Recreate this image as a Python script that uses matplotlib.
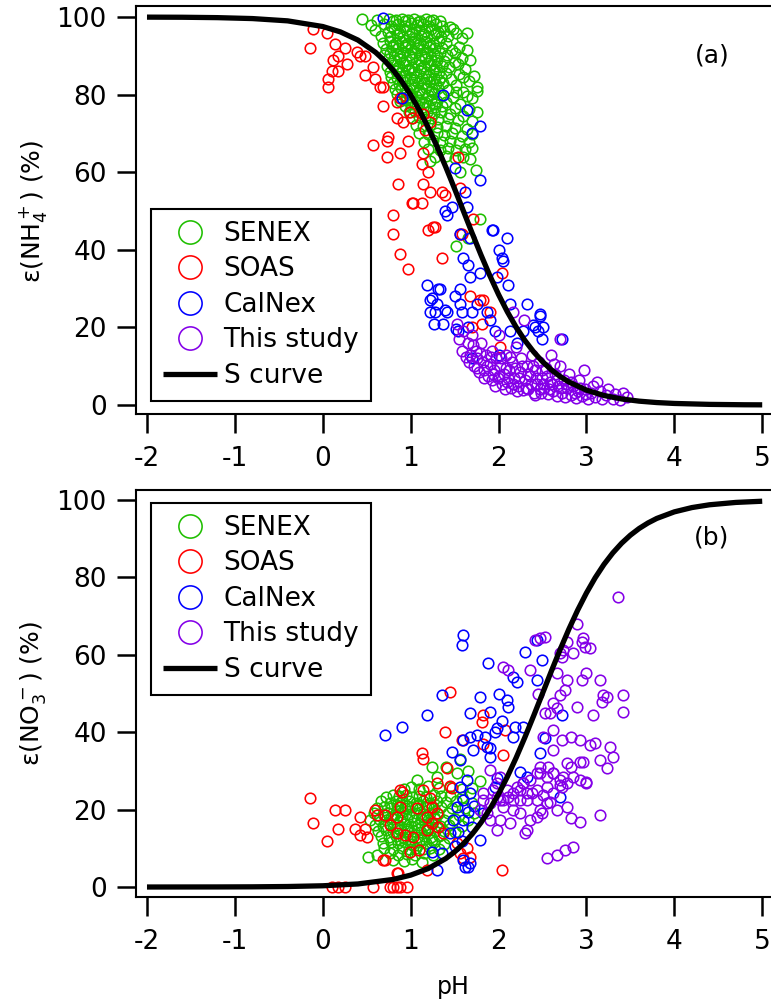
import matplotlib
matplotlib.use('Agg')
import matplotlib.pyplot as plt

plt.rcParams['font.family'] = 'DejaVu Sans'
plt.rcParams['mathtext.fontset'] = 'dejavusans'
plt.rcParams['axes.unicode_minus'] = False

# ---------------------------------------------------------------------------
# data: (pH, epsilon %) pairs
# ---------------------------------------------------------------------------
series_names = ['SENEX', 'SOAS', 'CalNex', 'This study']
series_colors = ['#1fbf00', '#ff0000', '#0000ff', '#8400e8']

# S curves
curve_ph_nh4 = [-2.0, -1.6, -1.2, -0.8, -0.4, 0.0, 0.2, 0.4, 0.6, 0.7, 0.8, 0.9, 1.0, 1.1,
                1.2, 1.3, 1.4, 1.5, 1.6, 1.7, 1.8, 1.9, 2.0, 2.1, 2.2, 2.3, 2.4, 2.5, 2.6,
                2.7, 2.8, 3.0, 3.2, 3.4, 3.6, 3.8, 4.0, 4.4, 4.8, 5.0]
scurve_nh4 = [99.97, 99.94, 99.84, 99.60, 99.01, 97.55, 96.17, 94.06, 90.91, 88.82, 86.32,
              83.37, 79.92, 75.97, 71.52, 66.61, 61.31, 55.73, 50.00, 44.27, 38.69, 33.39,
              28.48, 24.03, 20.08, 16.63, 13.68, 11.18, 9.09, 7.36, 5.94, 3.83, 2.45, 1.56,
              0.99, 0.63, 0.40, 0.16, 0.06, 0.04]
curve_ph_no3 = [-2.0, -1.6, -1.2, -0.8, -0.4, 0.0, 0.4, 0.8, 1.0, 1.2, 1.4, 1.5, 1.6, 1.7,
                1.8, 1.9, 2.0, 2.1, 2.2, 2.3, 2.4, 2.5, 2.6, 2.7, 2.8, 2.9, 3.0, 3.1, 3.2,
                3.3, 3.4, 3.5, 3.6, 3.7, 3.8, 4.0, 4.2, 4.4, 4.7, 5.0]
scurve_no3 = [0.00, 0.01, 0.02, 0.05, 0.13, 0.32, 0.79, 1.96, 3.07, 4.77, 7.36, 9.09, 11.18,
              13.68, 16.63, 20.08, 24.03, 28.48, 33.39, 38.69, 44.27, 50.00, 55.73, 61.31,
              66.61, 71.52, 75.97, 79.92, 83.37, 86.32, 88.82, 90.91, 92.64, 94.06, 95.23,
              96.93, 98.04, 98.76, 99.37, 99.68]

# panel (a): ammonium
senex_a = [
    (0.45, 99.6), (0.62, 99.3), (0.75, 99.5), (0.83, 99.2), (0.90, 99.6), (0.97, 99.3), (1.04, 99.5),
    (1.11, 99.1), (1.18, 99.6), (1.25, 99.3), (1.33, 99.0),
    (0.55, 97.9), (0.70, 98.3), (0.78, 97.7), (0.86, 98.2), (0.93, 97.8), (1.00, 98.4), (1.07, 97.9),
    (1.14, 98.1), (1.21, 97.6), (1.29, 98.2), (1.36, 97.8), (1.45, 97.4),
    (0.60, 96.6), (0.74, 96.2), (0.81, 96.8), (0.88, 96.3), (0.95, 96.7), (1.02, 96.1), (1.09, 96.6),
    (1.16, 96.4), (1.23, 96.9), (1.31, 96.2), (1.38, 96.5), (1.52, 95.8), (1.64, 96.0),
    (0.66, 95.1), (0.77, 94.8), (0.84, 95.3), (0.91, 94.9), (0.98, 95.2), (1.05, 94.7), (1.12, 95.1),
    (1.19, 94.9), (1.26, 95.3), (1.34, 94.8), (1.42, 95.0),
    (0.69, 93.4), (0.76, 93.7), (0.83, 93.2), (0.90, 93.6), (0.97, 93.3), (1.04, 93.8), (1.11, 93.4),
    (1.18, 93.6), (1.25, 93.2), (1.32, 93.7), (1.40, 93.3), (1.55, 92.4),
    (0.72, 91.8), (0.79, 92.2), (0.86, 91.9), (0.93, 92.3), (1.00, 91.7), (1.07, 92.1), (1.14, 91.8),
    (1.21, 92.2), (1.28, 91.9), (1.36, 92.1), (1.47, 91.5),
    (0.70, 90.3), (0.77, 90.7), (0.84, 90.4), (0.91, 90.8), (0.98, 90.2), (1.05, 90.6), (1.12, 90.3),
    (1.19, 90.7), (1.26, 90.4), (1.33, 90.6), (1.41, 90.2), (1.58, 89.5),
    (0.74, 89.1), (0.81, 88.8), (0.88, 89.2), (0.95, 88.7), (1.02, 89.1), (1.09, 88.9), (1.16, 89.3),
    (1.23, 88.8), (1.30, 89.0), (1.38, 88.7), (1.50, 88.4),
    (0.73, 87.4), (0.80, 87.7), (0.87, 87.3), (0.94, 87.6), (1.01, 87.2), (1.08, 87.7), (1.15, 87.4),
    (1.22, 87.6), (1.29, 87.3), (1.36, 87.5), (1.44, 87.0), (1.62, 86.6),
    (0.76, 85.9), (0.83, 86.2), (0.90, 85.8), (0.97, 86.3), (1.04, 85.9), (1.11, 86.1), (1.18, 85.7),
    (1.25, 86.2), (1.32, 85.9), (1.40, 85.6), (1.55, 85.2), (1.72, 84.8),
    (0.78, 84.6), (0.85, 84.3), (0.92, 84.7), (0.99, 84.2), (1.06, 84.6), (1.13, 84.4), (1.20, 84.8),
    (1.27, 84.3), (1.34, 84.5), (1.46, 84.0), (1.66, 83.4),
    (0.80, 83.1), (0.87, 82.8), (0.94, 83.2), (1.01, 82.7), (1.08, 83.1), (1.15, 82.9), (1.22, 83.3),
    (1.29, 82.8), (1.37, 83.0), (1.52, 82.4), (1.76, 82.0),
    (0.82, 81.4), (0.89, 81.7), (0.96, 81.3), (1.03, 81.6), (1.10, 81.2), (1.17, 81.7), (1.24, 81.4),
    (1.31, 81.6), (1.42, 81.1), (1.60, 80.6),
    (0.85, 80.1), (0.92, 79.8), (0.99, 80.2), (1.06, 79.7), (1.13, 80.1), (1.20, 79.9), (1.27, 80.3),
    (1.35, 79.8), (1.48, 79.5), (1.70, 79.2),
    (0.88, 78.4), (0.95, 78.7), (1.02, 78.3), (1.09, 78.6), (1.16, 78.2), (1.23, 78.7), (1.30, 78.4),
    (1.40, 78.1), (1.56, 77.6),
    (0.93, 77.1), (1.00, 76.8), (1.07, 77.2), (1.14, 76.7), (1.21, 77.1), (1.28, 76.9), (1.36, 77.0),
    (1.50, 76.5), (1.66, 76.2), (1.75, 75.4),
    (0.98, 75.4), (1.05, 75.7), (1.12, 75.3), (1.19, 75.6), (1.26, 75.2), (1.34, 75.5), (1.45, 75.0),
    (1.60, 74.6),
    (1.02, 73.9), (1.09, 74.2), (1.16, 73.8), (1.23, 74.1), (1.31, 73.7), (1.42, 73.9), (1.54, 73.4),
    (1.70, 73.1),
    (1.06, 72.1), (1.14, 71.8), (1.22, 72.2), (1.30, 71.7), (1.40, 72.0), (1.50, 71.5), (1.64, 71.2),
    (1.10, 70.2), (1.20, 69.8), (1.30, 70.1), (1.38, 69.6), (1.47, 70.0), (1.58, 69.4), (1.70, 69.8),
    (1.15, 67.9), (1.25, 68.2), (1.36, 67.7), (1.45, 68.1), (1.55, 67.5), (1.66, 67.9),
    (1.20, 66.1), (1.33, 65.8), (1.42, 66.2), (1.52, 65.6), (1.62, 65.9), (1.70, 66.3),
    (1.28, 63.9), (1.40, 64.2), (1.50, 63.7), (1.60, 64.0), (1.68, 63.5),
    (1.48, 96.8), (1.58, 94.5), (1.50, 90.8), (1.64, 91.5), (1.54, 87.8), (1.68, 88.8), (1.60, 84.5),
    (1.75, 81.0), (1.64, 79.6), (1.52, 80.6),
    (1.79, 48.0), (1.65, 43.0), (1.52, 41.0), (1.22, 63.0), (1.74, 60.5), (1.56, 60.0),
    (0.80, 99.0), (0.94, 98.9), (1.08, 98.8), (1.22, 98.9), (0.87, 95.8), (1.01, 95.7), (1.15, 95.6),
    (1.29, 95.8), (0.80, 92.9), (0.94, 92.7), (1.08, 92.8), (1.22, 92.9), (0.88, 89.9), (1.02, 89.8),
    (1.16, 89.7), (1.30, 89.9), (0.84, 86.8), (0.98, 86.7), (1.12, 86.8), (1.26, 86.6), (0.90, 83.8),
    (1.04, 83.7), (1.18, 83.9), (1.32, 83.8), (0.95, 80.8), (1.09, 80.7), (1.23, 80.9), (1.00, 77.7),
    (1.14, 77.8), (1.28, 77.6),
]
soas_a = [
    (-0.15, 92), (-0.11, 97), (0.05, 96), (0.14, 93), (0.25, 92), (0.17, 90), (0.12, 89), (0.28, 88),
    (0.10, 86), (0.17, 86), (0.06, 84), (0.06, 82), (0.39, 91), (0.42, 90), (0.48, 90), (0.57, 87),
    (0.48, 85), (0.59, 84), (0.65, 82), (0.68, 77), (0.84, 78), (0.84, 74), (0.91, 73), (1.01, 74),
    (0.74, 69), (0.57, 67), (0.88, 65), (0.73, 64), (0.97, 68), (0.86, 57), (1.03, 52), (0.80, 49),
    (0.80, 44), (0.88, 39), (0.97, 35), (1.20, 45), (1.28, 46), (1.36, 38), (1.56, 44), (1.71, 48),
    (1.67, 28), (1.82, 27), (1.81, 21), (2.04, 34), (2.02, 15), (1.14, 75), (1.22, 73), (1.16, 71),
    (0.99, 75.5), (0.88, 79), (0.73, 68), (1.14, 65), (1.13, 62), (1.20, 60), (1.14, 57), (1.22, 55),
    (1.36, 55), (1.39, 54), (1.56, 56), (1.54, 64), (1.25, 46), (1.58, 44), (1.79, 27), (0.68, 82),
    (1.13, 52), (1.01, 52), (1.90, 24), (1.70, 20),
]
calnex_a = [
    (0.68, 99.7), (0.90, 79), (1.37, 80), (1.64, 76), (1.79, 72), (1.70, 70), (1.50, 61), (1.79, 58),
    (1.62, 55), (1.39, 50), (1.47, 51), (1.64, 51), (1.56, 44), (1.67, 43), (1.94, 45), (2.10, 43),
    (2.00, 40), (2.04, 38), (2.05, 37), (1.60, 38), (1.65, 36), (1.67, 33), (1.79, 34), (1.98, 33),
    (2.11, 31), (1.19, 31), (1.33, 30), (1.22, 27), (1.30, 26), (1.22, 24), (1.26, 21), (1.37, 21),
    (1.41, 24), (1.50, 28), (1.56, 30), (1.56, 26), (1.58, 24), (1.70, 24), (1.75, 26), (1.87, 24),
    (1.90, 22), (1.54, 19), (1.65, 20), (1.96, 19), (2.13, 19), (2.13, 26), (2.32, 26), (2.47, 23),
    (2.41, 20), (2.51, 20), (2.49, 17), (2.28, 19), (2.21, 16), (2.72, 17), (1.70, 12), (2.00, 13),
    (1.41, 49), (1.92, 45), (1.31, 30), (1.24, 27.5), (1.28, 24), (1.39, 24.5), (1.52, 19.5),
    (2.39, 20.5), (2.47, 23.5), (2.45, 19),
]
study_a = [
    (1.53, 21), (1.55, 17), (1.58, 14), (1.60, 19), (1.63, 12.5), (1.65, 16), (1.68, 13), (1.70, 18),
    (1.72, 10), (1.74, 14), (1.76, 12), (1.78, 8.5), (1.80, 16), (1.82, 11), (1.84, 9), (1.86, 13),
    (1.88, 7.5), (1.90, 10.5), (1.92, 14), (1.93, 6.5), (1.95, 9), (1.97, 12), (1.99, 7), (2.00, 18),
    (2.02, 10), (2.04, 5.5), (2.06, 8), (2.08, 13), (2.10, 6), (2.12, 9), (2.14, 4.5), (2.15, 11),
    (2.17, 24), (2.18, 7), (2.20, 15), (2.22, 5), (2.24, 8.5), (2.26, 12), (2.28, 3.8), (2.29, 22),
    (2.30, 6.5), (2.32, 10), (2.34, 4), (2.36, 7.5), (2.38, 13), (2.40, 3.2), (2.42, 9), (2.44, 5.5),
    (2.46, 11), (2.48, 3), (2.50, 7), (2.52, 4.5), (2.54, 9.5), (2.56, 2.8), (2.58, 6), (2.60, 13),
    (2.62, 3.5), (2.64, 8), (2.66, 2.3), (2.68, 5), (2.70, 17), (2.70, 10), (2.72, 3), (2.74, 6.5),
    (2.76, 2), (2.78, 4.5), (2.80, 8), (2.82, 2.5), (2.85, 5), (2.88, 1.8), (2.90, 3.5), (2.92, 6.5),
    (2.95, 2.2), (2.97, 9), (2.98, 4), (3.02, 1.6), (3.05, 3), (3.08, 5), (3.10, 2), (3.12, 6),
    (3.15, 3.5), (3.18, 1.5), (3.22, 2.5), (3.25, 4), (3.30, 1.5), (3.33, 2.8), (3.38, 1.2), (3.42, 3),
    (3.46, 2),
    (1.75, 9.5), (1.79, 13.5), (1.83, 7), (1.87, 10), (1.91, 12.5), (1.94, 8), (1.96, 5), (2.01, 7.5),
    (2.03, 12), (2.07, 4), (2.09, 9.5), (2.11, 7), (2.13, 12.5), (2.16, 5.5), (2.19, 9.5), (2.21, 3.5),
    (2.23, 7), (2.27, 10), (2.31, 4.5), (2.33, 8), (2.37, 5.5), (2.39, 10), (2.41, 2.5), (2.43, 7),
    (2.47, 4), (2.49, 9), (2.51, 5.5), (2.55, 7.5), (2.57, 4), (2.61, 5.5), (2.63, 10.5), (2.67, 6.5),
    (2.71, 4.5), (2.77, 5.5), (2.83, 6), (2.87, 3), (2.93, 4.5), (3.00, 2.8), (1.66, 11), (1.71, 15.5),
]

# panel (b): nitrate
senex_b = [
    (1.24, 31), (1.56, 33), (1.07, 27.6), (1.53, 29.5), (1.65, 30), (1.79, 27.5), (1.40, 31), (1.30, 28.5),
    (0.92, 25.2), (1.00, 25.8), (1.10, 25.4), (1.20, 26.0), (1.32, 25.5), (1.45, 25.9), (1.58, 25.3),
    (1.70, 25.7),
    (0.72, 23.3), (0.80, 23.7), (0.87, 23.4), (0.95, 23.8), (1.02, 23.2), (1.10, 23.6), (1.18, 23.3),
    (1.26, 23.7), (1.35, 23.4), (1.45, 23.6), (1.58, 23.2),
    (0.66, 22.1), (0.76, 21.8), (0.83, 22.2), (0.90, 21.9), (0.98, 22.3), (1.06, 21.7), (1.14, 22.1),
    (1.22, 21.8), (1.30, 22.2), (1.40, 21.9), (1.52, 22.1), (1.70, 21.6),
    (0.62, 20.4), (0.70, 20.7), (0.78, 20.3), (0.86, 20.8), (0.94, 20.4), (1.02, 20.6), (1.10, 20.2),
    (1.18, 20.7), (1.26, 20.4), (1.35, 20.6), (1.47, 20.3), (1.62, 20.5),
    (0.58, 19.1), (0.68, 18.8), (0.74, 19.2), (0.82, 18.9), (0.90, 19.3), (0.98, 18.8), (1.06, 19.1),
    (1.14, 18.9), (1.22, 19.2), (1.31, 18.8), (1.42, 19.1), (1.55, 18.7), (1.72, 19.0),
    (0.54, 17.4), (0.64, 17.7), (0.72, 17.3), (0.80, 17.6), (0.88, 17.2), (0.96, 17.7), (1.04, 17.4),
    (1.12, 17.6), (1.20, 17.3), (1.28, 17.7), (1.38, 17.4), (1.50, 17.6), (1.65, 17.2),
    (0.60, 16.1), (0.68, 15.8), (0.76, 16.2), (0.84, 15.9), (0.92, 16.3), (1.00, 15.8), (1.08, 16.1),
    (1.16, 15.9), (1.24, 16.2), (1.33, 15.8), (1.44, 16.0), (1.58, 15.7),
    (0.63, 14.4), (0.72, 14.7), (0.80, 14.3), (0.88, 14.8), (0.96, 14.4), (1.04, 14.6), (1.12, 14.2),
    (1.20, 14.7), (1.28, 14.4), (1.38, 14.6), (1.50, 14.2),
    (0.66, 13.1), (0.75, 12.8), (0.83, 13.2), (0.91, 12.9), (0.99, 13.3), (1.07, 12.8), (1.15, 13.1),
    (1.23, 12.9), (1.32, 13.2), (1.44, 12.7),
    (0.68, 11.4), (0.78, 11.7), (0.86, 11.3), (0.94, 11.6), (1.02, 11.2), (1.10, 11.7), (1.18, 11.4),
    (1.27, 11.6), (1.38, 11.2),
    (0.70, 10.1), (0.80, 9.8), (0.90, 10.2), (0.98, 9.7), (1.06, 10.1), (1.14, 9.9), (1.22, 10.2),
    (1.32, 9.8),
    (0.62, 8.4), (0.76, 8.7), (0.86, 8.3), (0.96, 8.6), (1.05, 8.2), (1.15, 8.7), (1.25, 8.4),
    (0.52, 7.8), (0.80, 7.0), (0.92, 6.6), (1.02, 7.2), (1.13, 6.5),
    (0.84, 21.2), (0.96, 21.0), (1.08, 21.1), (1.20, 21.2), (0.78, 18.2), (0.90, 18.0), (1.02, 18.1),
    (1.14, 18.2), (1.26, 18.0), (0.84, 15.2), (0.96, 15.1), (1.08, 15.0), (1.20, 15.2), (0.88, 12.2),
    (1.00, 12.0), (1.12, 12.1), (1.24, 12.2),
]
soas_b = [
    (-0.15, 23), (-0.11, 16.5), (0.05, 12), (0.14, 20), (0.25, 20), (0.17, 15), (0.42, 18), (0.37, 15),
    (0.48, 15), (0.50, 13), (0.59, 20), (0.62, 18.6), (0.71, 18.6), (0.76, 16), (0.84, 18), (0.88, 20.7),
    (0.90, 24.5), (0.84, 14), (0.93, 13.4), (1.03, 13), (1.07, 20.4), (1.14, 25), (1.14, 33), (1.13, 34.5),
    (1.22, 23), (1.24, 20.7), (1.19, 18), (1.24, 16.5), (1.19, 14.7), (1.30, 19), (1.31, 15.5), (1.37, 14),
    (1.47, 25.6), (1.41, 30.7), (1.39, 40), (1.45, 50.4), (1.58, 38), (0.99, 9), (1.10, 9.6), (0.71, 7),
    (0.84, 3.6), (0.42, 13.4), (0.57, 0), (0.96, 0), (0.76, 0), (0.84, 0), (0.10, 0), (0.17, 0), (0.25, 0),
    (1.53, 11.4), (1.64, 10), (1.60, 7.5), (1.81, 42.6), (1.82, 44.4), (2.07, 40.6), (1.82, 37), (2.05, 34),
    (0.88, 25), (1.30, 27), (1.45, 26), (2.04, 4.4), (1.67, 7.8), (1.56, 8.8), (1.19, 4.4), (0.80, 0),
    (0.88, 0), (0.69, 7), (0.86, 3.6),
]
calnex_b = [
    (0.71, 39.3), (0.90, 41.3), (1.19, 44.4), (1.36, 49.6), (1.60, 65), (1.58, 62.5), (1.88, 57.9),
    (1.67, 45), (1.79, 49), (2.00, 50), (2.10, 48.3), (2.11, 46.5), (2.30, 60.7), (2.49, 58.7),
    (2.44, 63.8), (2.17, 54.3), (2.21, 53), (2.44, 53.5), (2.04, 43), (2.19, 41.3), (1.96, 40),
    (2.17, 38.8), (2.28, 41.3), (1.67, 38.8), (1.75, 39.3), (1.85, 38.8), (1.87, 36.2), (1.71, 35.4),
    (1.90, 33.6), (1.47, 34.9), (1.56, 32.8), (2.53, 38.5), (2.47, 34.6), (2.72, 44.4), (2.70, 23.3),
    (1.98, 28.2), (2.24, 29.7), (2.32, 28.4), (1.60, 38), (1.56, 25.8), (1.64, 27.6), (1.67, 24.3),
    (1.53, 20.7), (1.60, 22.5), (1.65, 19.4), (1.48, 17.3), (1.60, 17.3), (1.70, 15.5), (1.54, 14.2),
    (1.45, 14), (1.79, 12.1), (1.24, 9), (1.30, 4.4), (1.60, 7), (1.65, 5.2), (1.82, 19), (1.96, 25.8),
    (1.90, 36), (1.98, 41), (1.90, 45.2), (1.62, 5.2), (1.67, 6.2), (1.36, 8.8), (1.50, 10.5),
    (1.72, 21), (1.58, 12),
]
study_b = [
    (3.36, 75), (2.89, 68), (2.41, 63.8), (2.47, 64.3), (2.53, 64.6), (2.95, 63.3), (2.98, 62),
    (3.04, 61.8), (2.96, 64.3), (2.78, 63.3), (2.73, 61.2), (2.72, 59.4), (2.85, 60.5), (2.05, 56.8),
    (2.11, 56), (2.36, 56), (2.66, 55.3), (3.00, 55.3), (2.95, 53.5), (3.15, 53.5), (3.19, 49.6),
    (3.23, 49), (3.18, 47.8), (3.42, 49.6), (3.42, 45.2), (3.08, 44.4), (2.89, 46.5), (2.78, 53.5),
    (2.76, 50.9), (2.70, 49.6), (2.62, 47.5), (2.66, 46.2), (2.58, 45), (2.45, 50), (2.53, 45),
    (2.62, 40.6), (2.51, 38.8), (2.62, 35.4), (2.72, 38), (2.83, 38.8), (2.93, 38), (3.04, 36.7),
    (3.10, 37.2), (3.27, 36.2), (3.30, 33.6), (3.15, 32.8), (3.23, 30.7), (2.93, 32.3), (2.78, 32),
    (2.83, 31), (2.96, 32.3), (3.00, 26.9), (2.73, 28.4), (2.70, 26.4), (2.62, 29.5), (2.56, 31),
    (2.47, 31), (2.44, 29.5), (2.36, 27.6), (2.28, 26.9), (2.21, 25.8), (2.38, 24.3), (2.32, 22.5),
    (2.24, 22.5), (2.17, 24.3), (2.11, 23.3), (2.05, 22.5), (1.98, 23.3), (2.51, 23.8), (2.58, 22),
    (2.66, 19.9), (2.78, 20.7), (2.47, 19.9), (2.44, 18), (2.49, 19), (2.32, 14.7), (2.30, 14),
    (2.83, 17.8), (2.93, 16.8), (3.15, 18.6), (2.55, 7.5), (2.66, 8.3), (2.76, 9.6), (2.85, 10.3),
    (2.13, 16.5), (2.02, 17.3), (1.98, 14.7), (1.87, 19), (1.79, 19.9), (1.94, 25), (1.82, 24.3),
    (1.90, 21.7), (2.17, 22.5), (2.24, 25), (2.28, 26.9), (2.05, 20.7), (2.17, 19.9), (2.24, 19.1),
    (1.98, 26.9), (2.02, 28.4), (2.44, 25), (2.55, 25.8), (2.62, 24.3), (2.72, 25.8), (2.47, 29.5),
    (2.55, 28.4), (2.62, 29.5), (2.70, 27.6), (2.78, 26.9), (2.85, 28.4), (2.93, 27.6), (3.00, 27.1),
    (1.82, 22.5), (1.90, 17.3), (2.02, 22.5), (2.36, 17.3), (2.44, 22.5), (2.55, 21.7), (2.32, 24.3),
    (2.10, 25), (1.90, 30.2), (2.70, 60.5),
]


def draw_panel(ax, groups, curve_x, curve_vals, ylim, legend_y):
    for pts, name, col in zip(groups, series_names, series_colors):
        ph = [p[0] for p in pts]
        eps = [p[1] for p in pts]
        ax.plot(ph, eps, ls='none', marker='o', ms=7.6, mfc='none', mec=col,
                mew=1.15, label=name, zorder=2)
    ax.plot(curve_x, curve_vals, color='black', lw=3.8, label='S curve',
            solid_joinstyle='round', solid_capstyle='butt', zorder=3)

    ax.set_xlim(-2.125, 5.1)
    ax.set_ylim(*ylim)
    ax.set_xticks([-2, -1, 0, 1, 2, 3, 4, 5])
    ax.set_yticks([0, 20, 40, 60, 80, 100])
    for side in ['left', 'top', 'bottom']:
        ax.spines[side].set_linewidth(1.5)
        ax.spines[side].set_color('black')
    ax.spines['right'].set_visible(False)
    ax.tick_params(axis='both', direction='out', length=14, width=1.8,
                   labelsize=19, colors='black')
    ax.tick_params(axis='x', pad=9)
    ax.tick_params(axis='y', pad=7)

    leg = ax.legend(loc='upper left', bbox_to_anchor=(0.0236, legend_y),
                    borderaxespad=0, fontsize=19, markerscale=2.2,
                    handlelength=2.05, handletextpad=0.25, labelspacing=0.36,
                    borderpad=0.45, frameon=True, fancybox=False,
                    edgecolor='black', framealpha=1)
    leg.get_frame().set_linewidth(1.5)


fig = plt.figure(figsize=(7.71, 10.01), dpi=100)
ax_a = fig.add_axes([136 / 771, 1 - 414 / 1001, 635 / 771, 408 / 1001])
ax_b = fig.add_axes([136 / 771, 1 - 897 / 1001, 635 / 771, 407 / 1001])

draw_panel(ax_a, [senex_a, soas_a, calnex_a, study_a], curve_ph_nh4, scurve_nh4,
           (-2.32, 102.84), 0.5025)
draw_panel(ax_b, [senex_b, soas_b, calnex_b, study_b], curve_ph_no3, scurve_no3,
           (-2.58, 102.58), 0.968)

fig.text(33 / 771, 1 - 211 / 1001, 'ε(NH$_4^+$) (%)', rotation=90,
         ha='center', va='center', fontsize=18)
fig.text(33 / 771, 1 - 694 / 1001, 'ε(NO$_3^-$) (%)', rotation=90,
         ha='center', va='center', fontsize=18)
fig.text(712 / 771, 1 - 55 / 1001, '(a)', ha='center', va='center', fontsize=18)
fig.text(712 / 771, 1 - 538 / 1001, '(b)', ha='center', va='center', fontsize=18)
fig.text(453 / 771, 1 - 987 / 1001, 'pH', ha='center', va='center', fontsize=17)

fig.savefig('out.png', dpi=100)
